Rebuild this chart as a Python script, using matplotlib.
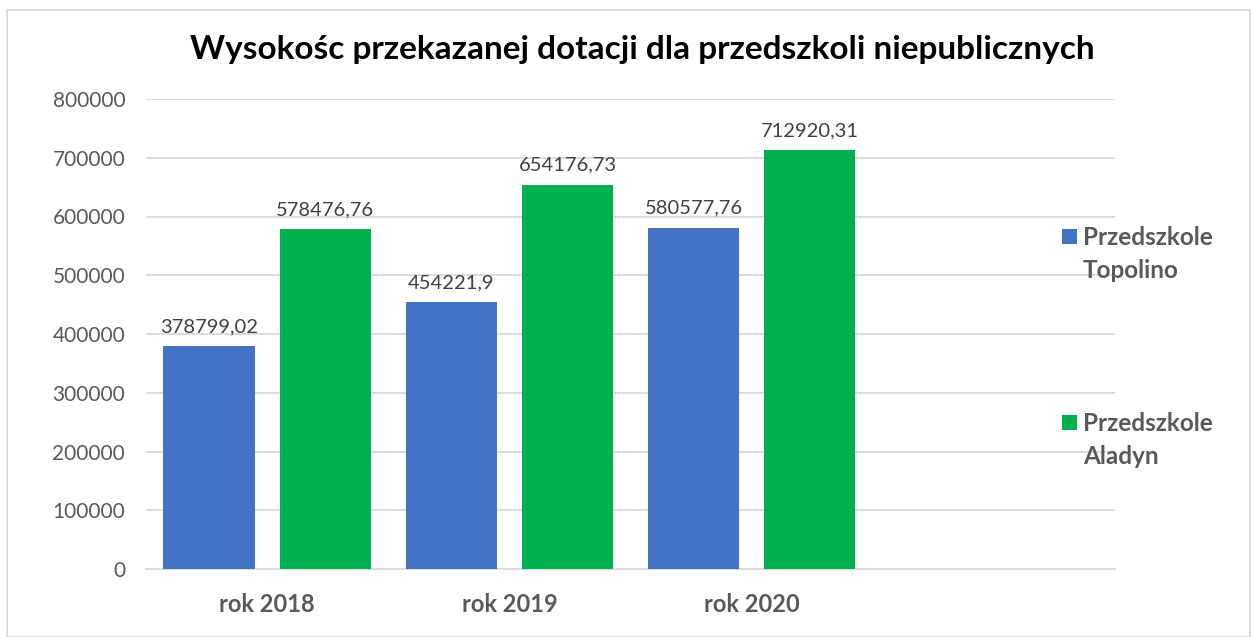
import matplotlib
matplotlib.use("Agg")
import matplotlib.pyplot as plt
from matplotlib.patches import Rectangle
import numpy as np

categories = ["rok 2018", "rok 2019", "rok 2020"]
series_names = ["Przedszkole\nTopolino", "Przedszkole\nAladyn"]
series_colors = ["#4472C4", "#00B050"]
topolino = [378799.02, 454221.9, 580577.76]
aladyn = [578476.76, 654176.73, 712920.31]
topolino_labels = ["378799,02", "454221,9", "580577,76"]
aladyn_labels = ["578476,76", "654176,73", "712920,31"]
yticks = [0, 100000, 200000, 300000, 400000, 500000, 600000, 700000, 800000]

plt.rcParams['font.family'] = ['Lato', 'DejaVu Sans']

fig = plt.figure(figsize=(12.53, 6.37), dpi=100)
ax = fig.add_axes([146/1253, 1-569/637, (1115-146)/1253, (569-99)/637])

x = np.arange(len(categories))
w = 0.376
off = 0.24
b1 = ax.bar(x - off, topolino, width=w, color=series_colors[0], zorder=3)
b2 = ax.bar(x + off, aladyn, width=w, color=series_colors[1], zorder=3)

for bars, labs in ((b1, topolino_labels), (b2, aladyn_labels)):
    for rect, lab in zip(bars, labs):
        ax.annotate(lab, (rect.get_x() + rect.get_width()/2, rect.get_height()),
                    xytext=(0, 8), textcoords="offset points", ha="center", va="bottom",
                    fontsize=14.5, color="#404040")

ax.set_xlim(-0.5, 3.5)
ax.set_ylim(0, 800000)
ax.set_yticks(yticks)
ax.set_yticklabels([str(v) for v in yticks], fontsize=15, color="#595959")
ax.set_xticks(x)
ax.set_xticklabels(categories, fontsize=17, fontweight="bold", color="#595959")
ax.tick_params(axis="both", length=0)
ax.tick_params(axis="y", pad=15)
ax.tick_params(axis="x", pad=17)
ax.grid(axis="y", color="#D9D9D9", linewidth=1.3, zorder=0)
for s in ["top", "right", "left"]:
    ax.spines[s].set_visible(False)
ax.spines["bottom"].set_color("#D9D9D9")
ax.spines["bottom"].set_linewidth(1.3)

fig.text(0.5125, 1-49/637, "Wysokośc przekazanej dotacji dla przedszkoli niepublicznych",
         ha="center", va="center", fontsize=24, fontweight="bold", color="black")

# legend (manual, first line aligned with the marker)
leg_tops = [229, 415]
for name, col, top in zip(series_names, series_colors, leg_tops):
    fig.add_artist(Rectangle((1062/1253, 1-(top+15)/637), 15/1253, 15/637,
                             transform=fig.transFigure, facecolor=col, edgecolor="none"))
    fig.text(1083/1253, 1-(top-3)/637, name, ha="left", va="top", fontsize=17.5,
             fontweight="bold", color="#595959", linespacing=1.5)

fig.add_artist(Rectangle((7/1253, 0.0), (1250-7)/1253, 1-10/637,
                         transform=fig.transFigure, fill=False,
                         edgecolor="#D9D9D9", linewidth=1.3))

fig.savefig("out.png", dpi=100)
